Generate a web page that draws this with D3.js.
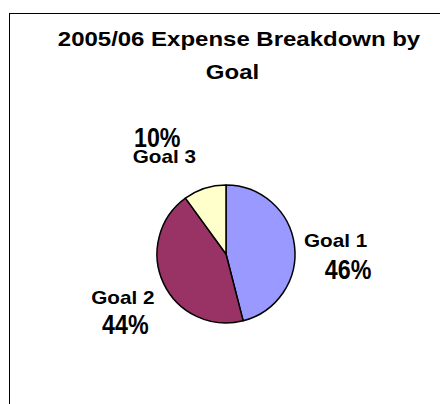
<!DOCTYPE html>
<html>
<head>
<meta charset="utf-8">
<script src="https://cdn.jsdelivr.net/npm/d3@7"></script>
<style>
  html, body { margin: 0; padding: 0; background: #fff; }
  svg { display: block; font-family: "Liberation Sans", Arial, sans-serif; font-weight: bold; }
</style>
</head>
<body>
<svg id="chart" width="440" height="404"></svg>
<script>
// chart data
var titleLines = ["2005/06 Expense Breakdown by", "Goal"];
var categories = ["Goal 1", "Goal 2", "Goal 3"];
var values = [46, 44, 10];
var percentLabels = ["46%", "44%", "10%"];
var colors = ["#9999ff", "#993366", "#ffffcc"];

// label nudges from the label arc centroid: [nameDx, nameDy, pctDx, pctDy]
var labelNudges = [
    [-3.5, 7, 9, 39],
    [0, 1, 2.5, 31],
    [-26.5, 17.5, -33.5, 1]
];

var svg = d3.select("#chart");

// outer frame, runs off the right and bottom edge
svg.append("rect")
    .attr("x", 9.5).attr("y", 13.5)
    .attr("width", 460).attr("height", 420)
    .attr("fill", "#fff")
    .attr("stroke", "#000")
    .attr("stroke-width", 1);

// title, text is slightly stretched like the original
var titleCenters = [239, 232.5];
var titleBaselines = [45.5, 78.5];
titleLines.forEach(function(t, i) {
    svg.append("text")
        .attr("transform", "translate(" + titleCenters[i] + "," + titleBaselines[i] + ") scale(1.17,1)")
        .attr("text-anchor", "middle")
        .attr("font-size", 20.5)
        .attr("fill", "#000")
        .text(t);
});

var cx = 226, cy = 254, radius = 69;
var g = svg.append("g").attr("transform", "translate(" + cx + "," + cy + ")");

var pie = d3.pie().sort(null).value(function(d) { return d; });
var arc = d3.arc().innerRadius(0).outerRadius(radius);
var labelArc = d3.arc().innerRadius(radius + 45).outerRadius(radius + 45);

var arcs = pie(values);

g.selectAll("path.slice")
    .data(arcs)
    .enter().append("path")
    .attr("class", "slice")
    .attr("d", arc)
    .attr("fill", function(d, i) { return colors[i]; })
    .attr("stroke", "#000")
    .attr("stroke-width", 1.5)
    .attr("stroke-linejoin", "round");

var labels = g.selectAll("g.label")
    .data(arcs)
    .enter().append("g")
    .attr("class", "label")
    .attr("transform", function(d) { return "translate(" + labelArc.centroid(d) + ")"; });

labels.append("text")
    .attr("transform", function(d, i) {
        return "translate(" + labelNudges[i][0] + "," + labelNudges[i][1] + ") scale(1.15,1)";
    })
    .attr("text-anchor", "middle")
    .attr("font-size", 18)
    .text(function(d, i) { return categories[i]; });

labels.append("text")
    .attr("transform", function(d, i) {
        return "translate(" + labelNudges[i][2] + "," + labelNudges[i][3] + ") scale(0.83,1)";
    })
    .attr("text-anchor", "middle")
    .attr("font-size", 28)
    .text(function(d, i) { return percentLabels[i]; });
</script>
</body>
</html>
